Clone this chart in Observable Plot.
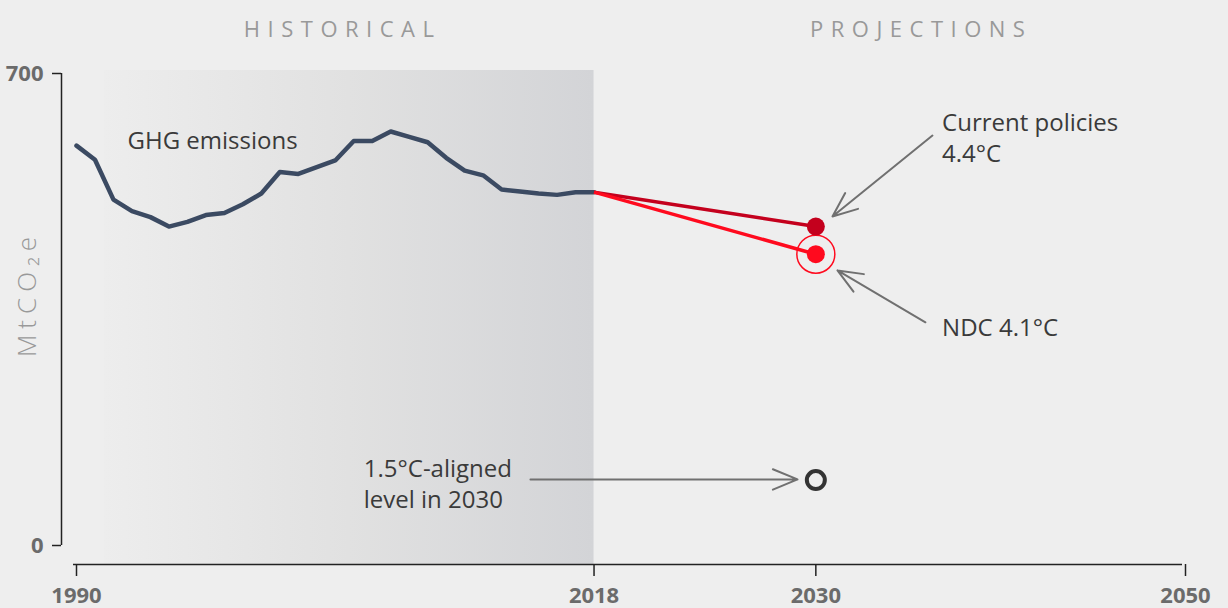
<!DOCTYPE html>
<html>
<head>
<meta charset="utf-8">
<script src="https://cdn.jsdelivr.net/npm/d3@7"></script>
<script src="https://cdn.jsdelivr.net/npm/@observablehq/plot@0.6"></script>
<style>
html, body { margin: 0; padding: 0; background: #eeeeee; }
#chart svg { display: block; }
</style>
</head>
<body>
<div id="chart"></div>
<script>
// ---- Data ----
const years = [1990,1991,1992,1993,1994,1995,1996,1997,1998,1999,2000,2001,2002,2003,2004,2005,2006,2007,2008,2009,2010,2011,2012,2013,2014,2015,2016,2017,2018];
const emissions = [593,572,513,496,487,473,480,490,493,506,522,554,551,561,571,600,600,614,606,598,575,556,549,528,525,522,520,524,524];

const scenarioNames = ["Current policies", "NDC"];
const scenarioColors = ["#c4001d", "#ff0a1e"];
const scenarioStart = 2018;
const scenarioEnd = 2030;
const scenario2030 = [473, 432];

const alignedYear = 2030;
const alignedValue = 97;

const xTicks = [1990, 2018, 2030, 2050];
const yTicks = [0, 700];
const historicalSpan = [1991.5, 2018];

const sectionLabels = ["HISTORICAL", "PROJECTIONS"];
const sectionYears = [2004.4, 2035.7];

const yLabel = "MtCO\u2082e";

// annotation texts (year, value at text block centre)
const noteTexts = ["GHG emissions", "Current policies\n4.4°C", "NDC 4.1°C", "1.5°C-aligned\nlevel in 2030"];
const noteYears = [1992.76, 2036.83, 2036.83, 2005.54];
const noteValues = [602, 606, 325, 93];
const noteLineHeights = [1.2, 1.28, 1.2, 1.26];

// annotation arrows
const arrowFromYears = [2036.31, 2035.93, 2014.56];
const arrowFromValues = [608, 331, 98];
const arrowToYears = [2030.90, 2031.17, 2029.01];
const arrowToValues = [488, 408, 98];

// ---- Build tables ----
const history = years.map((y, i) => ({year: y, value: emissions[i]}));
const scenarioSegments = scenarioNames.map((n, i) => ({
  name: n, color: scenarioColors[i],
  x1: scenarioStart, y1: emissions[years.indexOf(scenarioStart)],
  x2: scenarioEnd, y2: scenario2030[i]
}));
const scenarioPoints = scenarioNames.map((n, i) => ({name: n, color: scenarioColors[i], year: scenarioEnd, value: scenario2030[i]}));
const notes = noteTexts.map((t, i) => ({text: t, year: noteYears[i], value: noteValues[i], lh: noteLineHeights[i]}));
const arrows = arrowFromYears.map((x, i) => ({x1: x, y1: arrowFromValues[i], x2: arrowToYears[i], y2: arrowToValues[i]}));
const sections = sectionLabels.map((t, i) => ({text: t, year: sectionYears[i]}));

const FONT = "'Open Sans', 'Noto Sans', sans-serif";

const gradientDefs = () => {
  const defs = d3.create("svg:defs");
  const g = defs.append("linearGradient").attr("id", "histGrad").attr("x1", "0").attr("x2", "1").attr("y1", "0").attr("y2", "0");
  g.append("stop").attr("offset", "0%").attr("stop-color", "#ededed");
  g.append("stop").attr("offset", "50%").attr("stop-color", "#e1e1e1");
  g.append("stop").attr("offset", "100%").attr("stop-color", "#d3d4d7");
  return defs.node();
};

const chart = Plot.plot({
  width: 1228,
  height: 608,
  marginLeft: 61,
  marginRight: 43,
  marginTop: 73,
  marginBottom: 44,
  style: {fontFamily: FONT, background: "#eeeeee", overflow: "visible"},
  x: {domain: [1990, 2050], insetLeft: 15, axis: null},
  y: {domain: [0, 700], insetBottom: 19, axis: null},
  marks: [
    gradientDefs,
    Plot.rect([historicalSpan], {x1: d => d[0], x2: d => d[1], fill: "url(#histGrad)", insetTop: -3}),
    // axes
    Plot.ruleY([{v: yTicks[0], a: xTicks[0], b: xTicks[xTicks.length - 1]}], {y: "v", x1: "a", x2: "b", dy: 19, dx: -3, stroke: "#222", strokeWidth: 1.5}),
    Plot.ruleX([{x: xTicks[0], a: yTicks[0], b: yTicks[1]}], {x: "x", y1: "a", y2: "b", dx: -15, stroke: "#222", strokeWidth: 1.5}),
    Plot.axisY({ticks: yTicks, tickSize: 9, tickPadding: 9, label: null, stroke: "#222", strokeWidth: 1.5, fill: "#6b6b6b", fontSize: 22, fontWeight: "bold"}),
    Plot.axisX({ticks: xTicks, tickSize: 12, tickPadding: 11, tickFormat: d => String(d), label: null, stroke: "#222", strokeWidth: 1.5, fill: "#6b6b6b", fontSize: 22, fontWeight: "bold"}),
    // section headers
    Plot.text(sections, {x: "year", text: "text", frameAnchor: "top", dy: -52, fontSize: 22, fill: "#999999", textAnchor: "middle"}),
    // y label
    Plot.text([yLabel], {frameAnchor: "left", dx: -34, dy: -25, rotate: -90, fontSize: 26, fontWeight: 300, fill: "#999999", textAnchor: "middle"}),
    // historical line
    Plot.line(history, {x: "year", y: "value", stroke: "#3b4a62", strokeWidth: 4.5, strokeLinejoin: "round", strokeLinecap: "round"}),
    // scenario lines
    Plot.link(scenarioSegments, {x1: "x1", y1: "y1", x2: "x2", y2: "y2", stroke: "color", strokeWidth: 3.5}),
    // ring around NDC
    Plot.dot(scenarioPoints.filter(d => d.name === "NDC"), {x: "year", y: "value", r: 19, stroke: "color", strokeWidth: 1.5, fill: "none"}),
    Plot.dot(scenarioPoints, {x: "year", y: "value", r: 9, fill: "color", stroke: "none"}),
    // 1.5 aligned
    Plot.dot([{year: alignedYear, value: alignedValue}], {x: "year", y: "value", r: 9, stroke: "#333333", strokeWidth: 4, fill: "none"}),
    // arrows
    Plot.arrow(arrows, {x1: "x1", y1: "y1", x2: "x2", y2: "y2", stroke: "#707070", strokeWidth: 2, headLength: 20, headAngle: 45}),
    // notes
    ...notes.map(n => Plot.text([n], {x: "year", y: "value", text: "text", textAnchor: "start", lineAnchor: "middle", lineHeight: n.lh, fontSize: 24, fill: "#3a3a3a"}))
  ]
});

d3.select(chart).selectAll("text").each(function() {
  const t = this.textContent;
  if (sectionLabels.includes(t)) this.setAttribute("letter-spacing", "7.5");
  if (t === yLabel) this.setAttribute("letter-spacing", "6");
});

document.getElementById("chart").appendChild(chart);
</script>
</body>
</html>
